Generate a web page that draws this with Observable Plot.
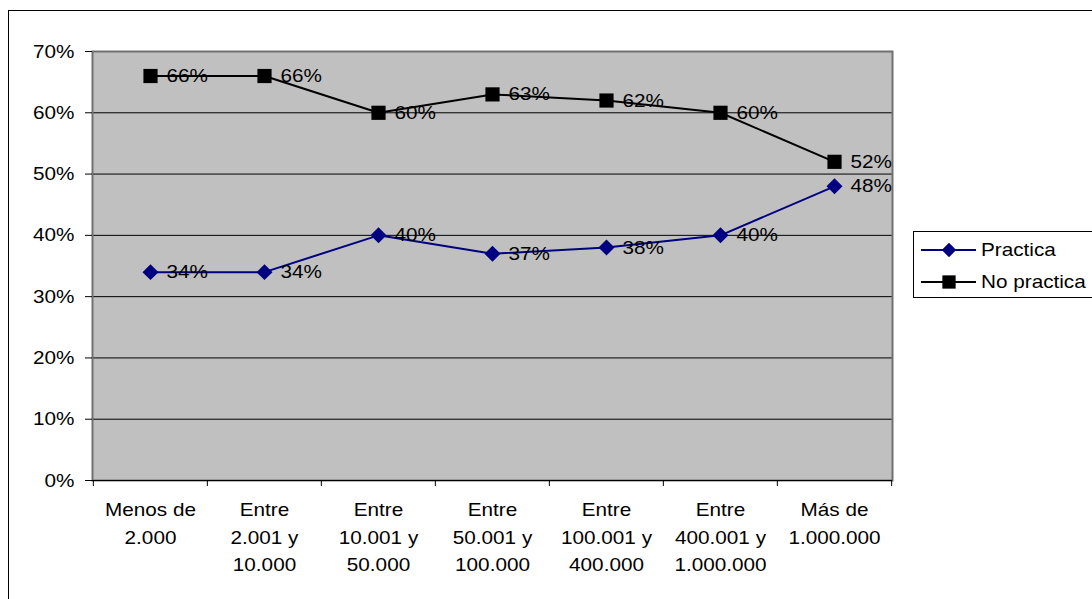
<!DOCTYPE html>
<html><head><meta charset="utf-8">
<script src="https://cdn.jsdelivr.net/npm/d3@7"></script>
<script src="https://cdn.jsdelivr.net/npm/@observablehq/plot@0.6"></script>
<style>
html,body{margin:0;padding:0}
body{width:1092px;height:599px;overflow:hidden;background:#fff;font-family:"Liberation Sans",Arial,sans-serif;position:relative}
#border{position:absolute;left:8px;top:10px;width:1300px;height:800px;border:1px solid #000;box-sizing:border-box}
#chart{position:absolute;left:0;top:0}
#legend{position:absolute;left:913px;top:231px;width:220px;height:67px;border:1px solid #000;background:#fff;box-sizing:border-box}
.item{position:absolute;left:6px;height:20px;width:200px}
.item svg{position:absolute;left:0;top:0}
.item span{position:absolute;left:61px;top:-1px;font-size:19px;line-height:22px;display:inline-block;transform:scaleX(1.09);transform-origin:0 50%;white-space:nowrap;color:#000}
</style>
</head><body>
<div id="border"></div>
<div id="chart"></div>
<div id="legend"></div>
<script>
const categories = ["Menos de\n2.000","Entre\n2.001 y\n10.000","Entre\n10.001 y\n50.000","Entre\n50.001 y\n100.000","Entre\n100.001 y\n400.000","Entre\n400.001 y\n1.000.000","Más de\n1.000.000"];
const practica = [0.34,0.34,0.40,0.37,0.38,0.40,0.48];
const noPractica = [0.66,0.66,0.60,0.63,0.62,0.60,0.52];
const yTicks = [0,0.1,0.2,0.3,0.4,0.5,0.6,0.7];
const seriesNames = ["Practica","No practica"];
const seriesColors = ["#000080","#000000"];
const seriesSymbols = ["diamond2","square"];

const rowsP = categories.map((c,i)=>({cat:c, v:practica[i]}));
const rowsN = categories.map((c,i)=>({cat:c, v:noPractica[i]}));

const W=1092,H=599,mL=92,mR=200,mT=51,mB=119;
const bw=(W-mL-mR)/categories.length;
const pct=d3.format(".0%");
const FS=19;

const svg = Plot.plot({
  width:W,height:H,marginLeft:mL,marginRight:mR,marginTop:mT,marginBottom:mB,
  style:{fontFamily:"Liberation Sans, Arial, sans-serif",fontSize:FS+"px",background:"transparent",color:"#000",overflow:"visible"},
  x:{type:"point",domain:categories,padding:0.5},
  y:{domain:[0,0.7]},
  marks:[
    Plot.frame({fill:"#c0c0c0"}),
    Plot.ruleY(yTicks.slice(1,-1),{stroke:"#000",strokeWidth:1}),
    Plot.frame({stroke:"#707070",strokeWidth:2}),
    Plot.ruleY([0],{stroke:"#000",strokeWidth:1}),
    Plot.axisY(yTicks,{tickSize:7,tickPadding:11,tickFormat:pct,fontSize:FS,label:null,stroke:"#000"}),
    Plot.axisX({tickSize:0,tickPadding:16,lineHeight:1.45,fontSize:FS,label:null}),
    Plot.axisX(categories,{tickSize:6,tickFormat:()=>"",dx:-bw/2,label:null,stroke:"#000"}),
    Plot.axisX([categories[categories.length-1]],{tickSize:6,tickFormat:()=>"",dx:bw/2,label:null,stroke:"#000"}),
    Plot.line(rowsP,{x:"cat",y:"v",stroke:seriesColors[0],strokeWidth:2}),
    Plot.line(rowsN,{x:"cat",y:"v",stroke:seriesColors[1],strokeWidth:2}),
    Plot.dot(rowsP,{x:"cat",y:"v",symbol:seriesSymbols[0],r:7.2,fill:seriesColors[0],stroke:"none"}),
    Plot.dot(rowsN,{x:"cat",y:"v",symbol:seriesSymbols[1],r:8,fill:seriesColors[1],stroke:"none"}),
    Plot.text(rowsP,{x:"cat",y:"v",text:d=>pct(d.v),dx:16,textAnchor:"start",fontSize:FS,fill:"#000"}),
    Plot.text(rowsN,{x:"cat",y:"v",text:d=>pct(d.v),dx:16,textAnchor:"start",fontSize:FS,fill:"#000"})
  ]
});
document.getElementById("chart").appendChild(svg);

// the reference's text is slightly stretched horizontally
const STRETCH=1.09;
svg.querySelectorAll("text").forEach(t=>{
  const tsp=t.querySelectorAll("tspan");
  const targets=tsp.length?Array.from(tsp):[t];
  targets.forEach(el=>{
    const len=el.getComputedTextLength();
    if(len>0){el.setAttribute("textLength",len*STRETCH);el.setAttribute("lengthAdjust","spacingAndGlyphs");}
  });
});

// legend
const legend=document.getElementById("legend");
const tops=[8,40];
seriesNames.forEach((name,i)=>{
  const div=document.createElement("div");
  div.className="item";div.style.top=tops[i]+"px";
  const s=d3.create("svg").attr("width",58).attr("height",20);
  s.append("line").attr("x1",1).attr("x2",56).attr("y1",10).attr("y2",10).attr("stroke",seriesColors[i]).attr("stroke-width",2);
  const sym=seriesSymbols[i]==="square"?d3.symbolSquare:d3.symbolDiamond2;
  const r=seriesSymbols[i]==="square"?7.5:6.5;
  s.append("path").attr("transform","translate(29,10)").attr("d",d3.symbol(sym,r*r*Math.PI)()).attr("fill",seriesColors[i]);
  div.appendChild(s.node());
  const sp=document.createElement("span");sp.textContent=name;div.appendChild(sp);
  legend.appendChild(div);
});
</script>
</body></html>
